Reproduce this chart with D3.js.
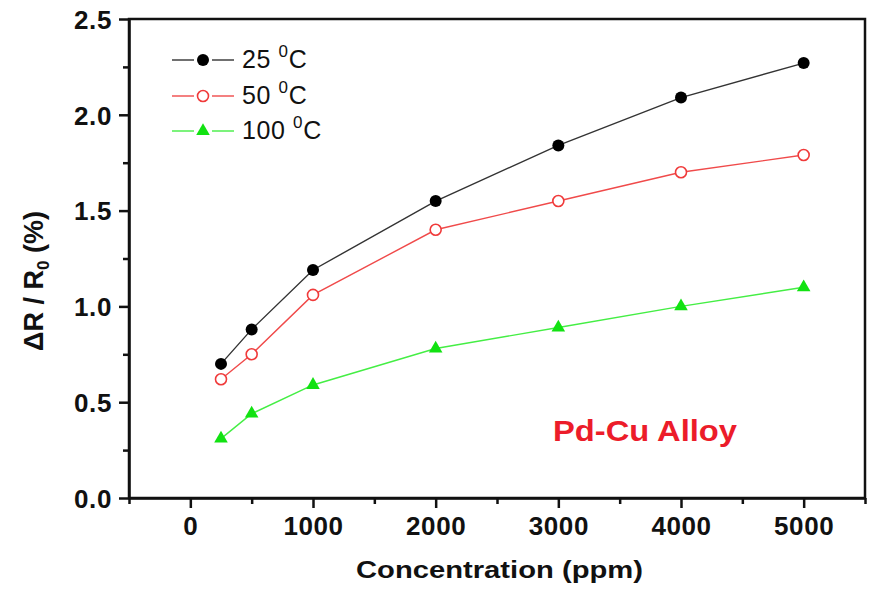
<!DOCTYPE html>
<meta charset="utf-8">
<head>
<style>
  body { margin: 0; background: #fff; }
  svg { font-family: 'Liberation Sans', Arial, sans-serif; }
  .axis path, .axis line { stroke: #111; }
  .axis text { font-size: 26px; font-weight: bold; fill: #111; letter-spacing: 0.6px; }
</style>
</head>
<body>
<svg width="875" height="589"></svg>
<script src="https://d3js.org/d3.v7.min.js"></script>
<script>

// data
var concentration = [250, 500, 1000, 2000, 3000, 4000, 5000];
var resp25  = [0.70, 0.88, 1.19, 1.55, 1.84, 2.09, 2.27];
var resp50  = [0.62, 0.75, 1.06, 1.40, 1.55, 1.70, 1.79];
var resp100 = [0.31, 0.44, 0.59, 0.78, 0.89, 1.00, 1.10];
var seriesNames = ["25", "50", "100"];
var xMajor = [0, 1000, 2000, 3000, 4000, 5000];
var xMinor = [-500, 500, 1500, 2500, 3500, 4500, 5500];
var yMajor = [0, 0.5, 1.0, 1.5, 2.0, 2.5];
var yMinor = [0.25, 0.75, 1.25, 1.75, 2.25];

const svg = d3.select('svg');
const mLeft = 129, mRight = 865, mTop = 19, mBottom = 498;

const x = d3.scaleLinear().domain([-500, 5500]).range([mLeft, mRight]);
const y = d3.scaleLinear().domain([0, 2.5]).range([mBottom, mTop]);

const series = [
  {name: seriesNames[0], vals: resp25,  color: '#000', line: '#333', shape: 'dot'},
  {name: seriesNames[1], vals: resp50,  color: '#f03a3a', line: '#f04a4a', shape: 'ring'},
  {name: seriesNames[2], vals: resp100, color: '#12e212', line: '#44ee44', shape: 'tri'}
];

// frame
svg.append('rect')
  .attr('x', mLeft).attr('y', mTop)
  .attr('width', mRight - mLeft).attr('height', mBottom - mTop)
  .attr('fill', 'none').attr('stroke', '#111').attr('stroke-width', 2.5);

// x axis, minor then major
svg.append('g').attr('class', 'axis')
  .attr('transform', `translate(0,${mBottom})`)
  .call(d3.axisBottom(x).tickValues(xMinor).tickSize(6).tickSizeOuter(0).tickFormat(''))
  .call(g => g.select('.domain').remove())
  .selectAll('line').attr('stroke-width', 2.5);

const xa = svg.append('g').attr('class', 'axis')
  .attr('transform', `translate(0,${mBottom})`)
  .call(d3.axisBottom(x).tickValues(xMajor).tickSize(10).tickSizeOuter(0).tickFormat(d3.format('d')));
xa.select('.domain').attr('stroke-width', 2.5);
xa.selectAll('line').attr('stroke-width', 2.5);
xa.selectAll('text').attr('y', 37).attr('dy', 0);

// y axis
svg.append('g').attr('class', 'axis')
  .attr('transform', `translate(${mLeft},0)`)
  .call(d3.axisLeft(y).tickValues(yMinor).tickSize(6).tickSizeOuter(0).tickFormat(''))
  .call(g => g.select('.domain').remove())
  .selectAll('line').attr('stroke-width', 2.5);

const ya = svg.append('g').attr('class', 'axis')
  .attr('transform', `translate(${mLeft},0)`)
  .call(d3.axisLeft(y).tickValues(yMajor).tickSize(10).tickSizeOuter(0).tickFormat(d3.format('.1f')));
ya.select('.domain').attr('stroke-width', 2.5);
ya.selectAll('line').attr('stroke-width', 2.5);
ya.selectAll('text').attr('x', -17).attr('dy', '0.36em');

// lines + markers
const line = d3.line().x(d => x(d[0])).y(d => y(d[1]));

function drawMarker(g, s, cx, cy) {
  if (s.shape === 'dot') {
    g.append('circle').attr('cx', cx).attr('cy', cy).attr('r', 6).attr('fill', s.color);
  } else if (s.shape === 'ring') {
    g.append('circle').attr('cx', cx).attr('cy', cy).attr('r', 5.5)
      .attr('fill', '#fff').attr('stroke', s.color).attr('stroke-width', 1.6);
  } else {
    g.append('path').attr('d', d3.symbol().type(d3.symbolTriangle).size(80)())
      .attr('transform', `translate(${cx},${cy})`).attr('fill', s.color);
  }
}

series.forEach(s => {
  const pts = concentration.map((c, i) => [c, s.vals[i]]);
  svg.append('path').datum(pts)
    .attr('d', line).attr('fill', 'none')
    .attr('stroke', s.line).attr('stroke-width', 1.4);
  const g = svg.append('g');
  pts.forEach(p => drawMarker(g, s, x(p[0]), y(p[1])));
});

// legend
const legRows = [60, 96, 131];
series.forEach((s, i) => {
  const ly = legRows[i];
  const g = svg.append('g');
  g.append('line').attr('x1', 172).attr('x2', 194).attr('y1', ly).attr('y2', ly)
    .attr('stroke', s.line).attr('stroke-width', 1.4);
  g.append('line').attr('x1', 212).attr('x2', 234).attr('y1', ly).attr('y2', ly)
    .attr('stroke', s.line).attr('stroke-width', 1.4);
  drawMarker(g, s, 203, ly);
  const t = g.append('text').attr('x', 242).attr('y', ly + 8)
    .attr('font-size', 25).attr('fill', '#111').attr('letter-spacing', 0.6);
  t.append('tspan').text(s.name + ' ');
  t.append('tspan').attr('font-size', 17).attr('dy', -11).text('0');
  t.append('tspan').attr('dy', 11).text('C');
});

// annotation
svg.append('text')
  .attr('x', 553).attr('y', 441)
  .attr('font-size', 30).attr('font-weight', 'bold')
  .attr('fill', '#ec1c2a')
  .attr('textLength', 184).attr('lengthAdjust', 'spacingAndGlyphs')
  .text('Pd-Cu Alloy');

// axis titles
svg.append('text')
  .attr('x', 356).attr('y', 578)
  .attr('font-size', 24).attr('font-weight', 'bold').attr('fill', '#111')
  .attr('textLength', 287).attr('lengthAdjust', 'spacingAndGlyphs')
  .text('Concentration (ppm)');

const yt = svg.append('text')
  .attr('transform', 'translate(43,281) rotate(-90)')
  .attr('text-anchor', 'middle')
  .attr('font-size', 27).attr('font-weight', 'bold').attr('fill', '#111');
yt.append('tspan').text('\u0394R / R');
yt.append('tspan').attr('font-size', 17).attr('dy', 6).text('0');
yt.append('tspan').attr('dy', -6).text(' (%)');

</script>
</body>
